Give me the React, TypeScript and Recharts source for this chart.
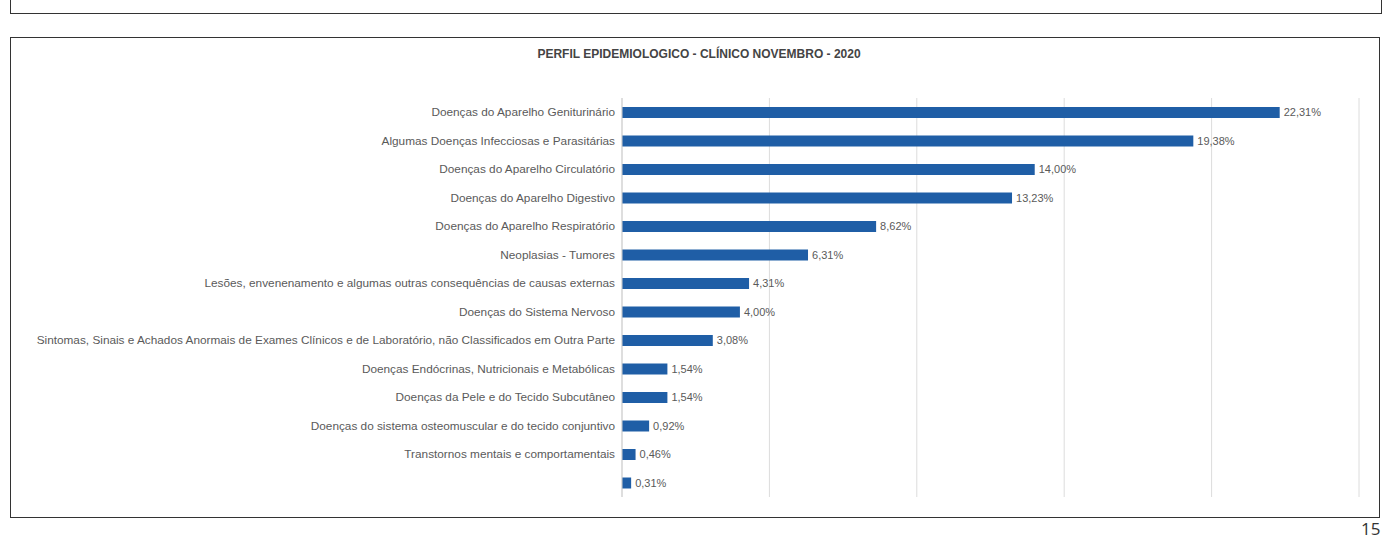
import React from "react";
import { BarChart, Bar, XAxis, YAxis, CartesianGrid, LabelList } from "recharts";

const categories: string[] = [
  "Doenças do Aparelho Geniturinário",
  "Algumas Doenças Infecciosas e Parasitárias",
  "Doenças do Aparelho Circulatório",
  "Doenças do Aparelho Digestivo",
  "Doenças do Aparelho Respiratório",
  "Neoplasias - Tumores",
  "Lesões, envenenamento e algumas outras consequências de causas externas",
  "Doenças do Sistema Nervoso",
  "Sintomas, Sinais e Achados Anormais de Exames Clínicos e de Laboratório, não Classificados em Outra Parte",
  "Doenças Endócrinas, Nutricionais e Metabólicas",
  "Doenças da Pele e do Tecido Subcutâneo",
  "Doenças do sistema osteomuscular e do tecido conjuntivo",
  "Transtornos mentais e comportamentais",
  "",
];

const percentages: number[] = [22.31, 19.38, 14.0, 13.23, 8.62, 6.31, 4.31, 4.0, 3.08, 1.54, 1.54, 0.92, 0.46, 0.31];

const xTicks: number[] = [0, 5, 10, 15, 20, 25];

const title = "PERFIL EPIDEMIOLOGICO - CLÍNICO NOVEMBRO - 2020";
const pageNumber = "15";

const data = categories.map((c, i) => ({ key: "c" + i, name: c, value: percentages[i] }));

const fmt = (v: any) => Number(v).toFixed(2).replace(".", ",") + "%";

const FONT = "'Liberation Sans', Arial, sans-serif";

const YTick = (props: any) => {
  const { x, y, payload } = props;
  const label = data[payload.index]?.name ?? "";
  return (
    <text x={x} y={y} dy={4} textAnchor="end" fontSize={11.8} fill="#5a5a5a" fontFamily={FONT}>
      {label}
    </text>
  );
};

export default function App() {
  return (
    <div style={{ position: "absolute", left: 0, top: 0, width: 1388, height: 540, background: "#fff", overflow: "hidden", fontFamily: FONT }}>
      {/* upper box remnant */}
      <div style={{ position: "absolute", left: 10, top: -4, width: 1370, height: 17, borderLeft: "1.5px solid #333", borderRight: "1.5px solid #333", borderBottom: "1.5px solid #333" }} />
      {/* chart box */}
      <div style={{ position: "absolute", left: 10, top: 37, width: 1370, height: 481, border: "1.5px solid #333", boxSizing: "border-box" }} />
      <div style={{ position: "absolute", left: 0, width: 1388, top: 44, textAlign: "center", paddingLeft: 10, boxSizing: "border-box" }}>
        <span style={{ fontSize: 12, fontWeight: "bold", color: "#444", fontFamily: FONT }}>{title}</span>
      </div>
      <div style={{ position: "absolute", left: 11, top: 40 }}>
        <BarChart
          width={1368}
          height={457}
          data={data}
          layout="vertical"
          margin={{ top: 58, right: 20, bottom: 0, left: 0 }}
          barCategoryGap="0%"
        >
          <CartesianGrid horizontal={false} vertical={true} stroke="#dcdcdc" />
          <XAxis type="number" domain={[0, 25]} ticks={xTicks} hide />
          <YAxis
            type="category"
            dataKey="key"
            width={611}
            tickLine={false}
            tickSize={0}
            tickMargin={7}
            axisLine={{ stroke: "#cfcfcf" }}
            tick={<YTick />}
            interval={0}
          />
          <Bar dataKey="value" fill="#1f5ea6" barSize={11} isAnimationActive={false}>
            <LabelList dataKey="value" position="right" offset={4} formatter={fmt} fontSize={11} fill="#5a5a5a" fontFamily={FONT} />
          </Bar>
        </BarChart>
      </div>
      <div style={{ position: "absolute", left: 1361, top: 517, fontSize: 17, color: "#333", fontFamily: "'Open Sans', sans-serif" }}>{pageNumber}</div>
    </div>
  );
}
